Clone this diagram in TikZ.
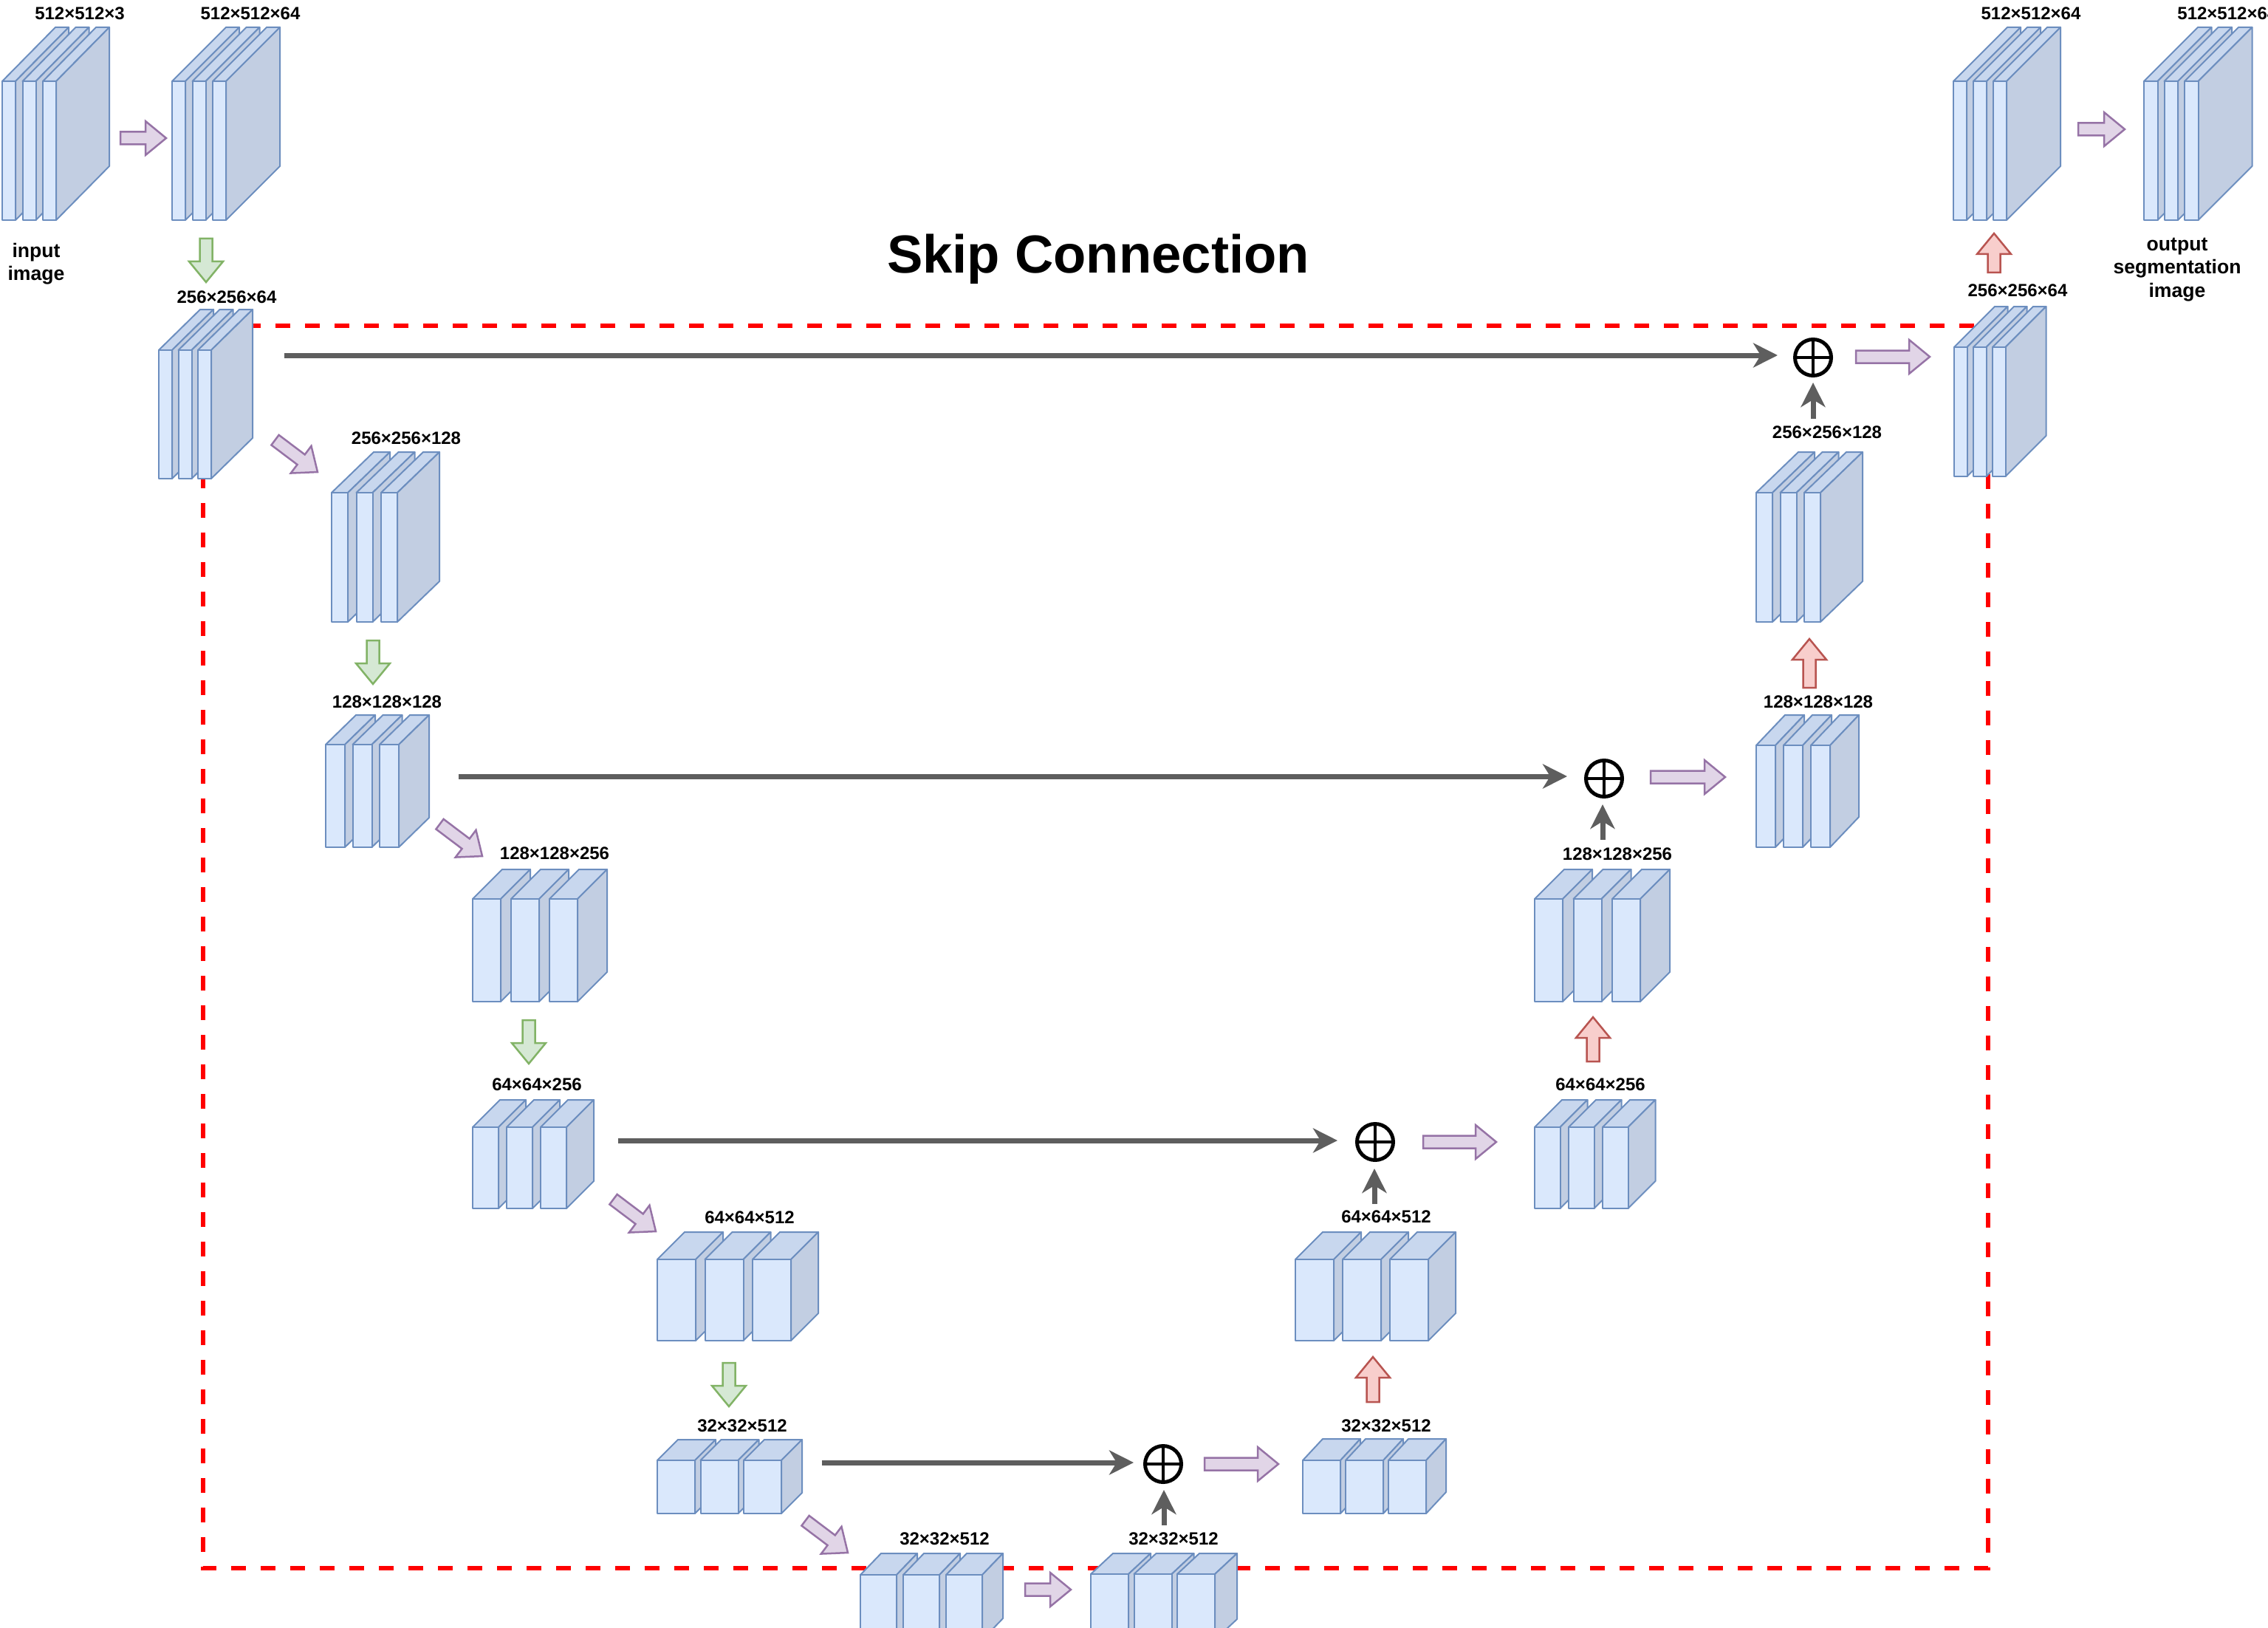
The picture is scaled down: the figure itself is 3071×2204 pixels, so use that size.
\documentclass[tikz,border=0pt]{standalone}
\usepackage{fontspec}
\setmainfont{Liberation Sans}
\usetikzlibrary{arrows.meta}
\definecolor{slabfill}{HTML}{DAE8FC}
\definecolor{slabline}{HTML}{6C8EBF}
\definecolor{slabtopc}{HTML}{C8D7EE}
\definecolor{slabsidec}{HTML}{C2CEE2}
\definecolor{purfill}{HTML}{E1D5E7}
\definecolor{purline}{HTML}{9673A6}
\definecolor{grnfill}{HTML}{D5E8D4}
\definecolor{grnline}{HTML}{82B366}
\definecolor{redfill}{HTML}{F8CECC}
\definecolor{redline}{HTML}{B85450}
\definecolor{skipgray}{HTML}{5E5E5E}
\definecolor{dashred}{HTML}{FF0000}

\newcommand\convblock[8]{% name, x0, ytop, ybottom, w, spacing, dx, dy
  \foreach \i in {0,1,2}{%
    \pgfmathsetmacro\xa{#2+\i*#6}%
    \pgfmathsetmacro\xb{\xa+#5}%
    \filldraw[slabface, fill=slabtopc] (\xa,#3) -- ++(#7,-#8) -- ++(#5,0) -- (\xb,#3) -- cycle;
    \filldraw[slabface, fill=slabsidec] (\xb,#3) -- ++(#7,-#8) -- ++(0,#4-#3) -- (\xb,#4) -- cycle;
    \filldraw[slabface, fill=slabfill] (\xa,#3) rectangle (\xb,#4);
  }%
  \coordinate (#1) at (#2,#3);
}
\newcommand\fatarrow[4]{% style, tail coordinate, angle, length
  \begin{scope}[shift={(#2)}, rotate=#3]
    \filldraw[#1] (0,-8.5) -- (#4-28,-8.5) -- (#4-28,-23) -- (#4,0) -- (#4-28,23) -- (#4-28,8.5) -- (0,8.5) -- cycle;
  \end{scope}}

\begin{document}
\begin{tikzpicture}[x=0.5pt,y=-0.5pt,
  slabface/.style={draw=slabline, line width=1pt, line join=round},
  purarrow/.style={fill=purfill, draw=purline, line width=1.25pt},
  grnarrow/.style={fill=grnfill, draw=grnline, line width=1.25pt},
  redarrow/.style={fill=redfill, draw=redline, line width=1.25pt},
  lbl/.style={font=\bfseries\fontsize{12}{14}\selectfont, inner sep=0pt},
  sidetxt/.style={font=\bfseries\fontsize{13.3}{15.75}\selectfont, inner sep=0pt, align=center},
  titletxt/.style={font=\bfseries\fontsize{36.25}{40}\selectfont, inner sep=0pt},
  skipbox/.style={draw=dashred, line width=3pt, dash pattern=on 10pt off 10pt},
  skip/.style={draw=skipgray, line width=3.5pt, -{Stealth[length=16.5pt,width=16.5pt,inset=5pt]}},
  oplus/.style={circle, draw=black, line width=2.5pt, inner sep=0pt, minimum size=24.5pt, fill=white,
    path picture={\draw[line width=2pt] (path picture bounding box.north) -- (path picture bounding box.south)
      (path picture bounding box.west) -- (path picture bounding box.east);}}
]
\useasboundingbox (0,0) rectangle (3071,2204);
\fill[white] (0,0) rectangle (3071,2204);
\clip (0,0) rectangle (3071,2204);

% skip connection region
\draw[skipbox] (275,441) rectangle (2692,2123);

% blocks
\convblock{b1}{3}{110}{298}{18}{27.5}{72}{73}
\convblock{b2}{233}{110}{298}{18}{27.5}{73}{73}
\convblock{b3}{215}{474}{648}{18}{26.5}{56}{55}
\convblock{b4}{449}{667}{842}{22}{33.5}{57}{55}
\convblock{b5}{441}{1008}{1147}{26}{36.5}{41}{40}
\convblock{b6}{640}{1217}{1356}{38}{52}{40}{40}
\convblock{b7}{640}{1526}{1636}{35}{46}{37}{37}
\convblock{b8}{890}{1705}{1815}{52}{64.5}{37}{37}
\convblock{b9}{890}{1977}{2049}{51}{58.5}{28}{28}
\convblock{b10}{1165}{2132}{2220}{49}{58}{28}{29}
\convblock{b11}{1477}{2131}{2220}{51}{58.5}{30}{28}
\convblock{d9}{1764}{1977}{2049}{51}{58}{27}{29}
\convblock{d8}{1754}{1705}{1815}{52}{64}{37}{37}
\convblock{d7}{2078}{1526}{1636}{34.5}{46}{37}{37}
\convblock{d6}{2078}{1217}{1356}{38}{52.5}{40}{40}
\convblock{d5}{2378}{1009}{1147}{26}{37}{39}{41}
\convblock{d4}{2378}{667}{842}{22}{32.5}{57}{55}
\convblock{d1}{2646}{470}{645}{17.5}{26}{55}{55}
\convblock{o1}{2645}{110}{298}{18}{27}{73}{73}
\convblock{o2}{2903}{110}{298}{18.5}{27.5}{73}{73}

% labels
\node[lbl] (l1) at (108,18) {512×512×3};
\node[lbl] (l2) at (339,18) {512×512×64};
\node[lbl] (l3) at (307,402) {256×256×64};
\node[lbl] (l4) at (550,593) {256×256×128};
\node[lbl] (l5) at (524,950) {128×128×128};
\node[lbl] (l6) at (751,1155) {128×128×256};
\node[lbl] (l7) at (727,1468) {64×64×256};
\node[lbl] (l8) at (1015,1648) {64×64×512};
\node[lbl] (l9) at (1005,1930) {32×32×512};
\node[lbl] (l10) at (1279,2083) {32×32×512};
\node[lbl] (l11) at (1589,2083) {32×32×512};
\node[lbl] (ld9) at (1877,1930) {32×32×512};
\node[lbl] (ld8) at (1877,1647) {64×64×512};
\node[lbl] (ld7) at (2167,1468) {64×64×256};
\node[lbl] (ld6) at (2190,1156) {128×128×256};
\node[lbl] (ld5) at (2462,950) {128×128×128};
\node[lbl] (ld4) at (2474,585) {256×256×128};
\node[lbl] (ld1) at (2732,393) {256×256×64};
\node[lbl] (lo1) at (2750,18) {512×512×64};
\node[lbl, anchor=west] (lo2) at (2948,18) {512×512×64};
\node[sidetxt] (inp) at (49,357) {input\\image};
\node[sidetxt] (outp) at (2948,365) {output\\segmentation\\image};
\node[titletxt, anchor=base] (title) at (1487,370) {Skip Connection};

% block arrows (tails)
\coordinate (a1) at (163,187);
\coordinate (a2) at (2814,175);
\coordinate (a3) at (1388,2152);
\coordinate (a4) at (2513,483);
\coordinate (a5) at (2235,1052);
\coordinate (a6) at (1927,1546);
\coordinate (a7) at (1631,1982);
\fatarrow{purarrow}{a1}{0}{62}
\fatarrow{purarrow}{a2}{0}{63}
\fatarrow{purarrow}{a3}{0}{62}
\fatarrow{purarrow}{a4}{0}{100}
\fatarrow{purarrow}{a5}{0}{101}
\fatarrow{purarrow}{a6}{0}{99}
\fatarrow{purarrow}{a7}{0}{100}
\coordinate (q1) at (372.5,595.7);
\coordinate (q2) at (595.5,1115.7);
\coordinate (q3) at (830.5,1623.7);
\coordinate (q4) at (1090.5,2058.7);
\fatarrow{purarrow}{q1}{-37}{72}
\fatarrow{purarrow}{q2}{-37}{72}
\fatarrow{purarrow}{q3}{-37}{72}
\fatarrow{purarrow}{q4}{-37}{72}
\coordinate (g1) at (279,323);
\coordinate (g2) at (505,867);
\coordinate (g3) at (716,1381);
\coordinate (g4) at (987,1845);
\fatarrow{grnarrow}{g1}{-90}{59}
\fatarrow{grnarrow}{g2}{-90}{59}
\fatarrow{grnarrow}{g3}{-90}{59}
\fatarrow{grnarrow}{g4}{-90}{59}
\coordinate (r1) at (2700,369);
\coordinate (r2) at (2450,931);
\coordinate (r3) at (2157,1437);
\coordinate (r4) at (1859,1898);
\fatarrow{redarrow}{r1}{90}{53}
\fatarrow{redarrow}{r2}{90}{66}
\fatarrow{redarrow}{r3}{90}{60}
\fatarrow{redarrow}{r4}{90}{61}

% adders
\node[oplus] (p1) at (2455,484) {};
\node[oplus] (p2) at (2172,1054) {};
\node[oplus] (p3) at (1862,1546) {};
\node[oplus] (p4) at (1575,1982) {};

% skip connections
\coordinate (s1) at (385,481);
\coordinate (s2) at (621,1051);
\coordinate (s3) at (837,1544);
\coordinate (s4) at (1113,1980);
\draw[skip, shorten >=10.5pt] (s1) -- (s1 -| p1.west);
\draw[skip, shorten >=11.5pt] (s2) -- (s2 -| p2.west);
\draw[skip, shorten >=12pt] (s3) -- (s3 -| p3.west);
\draw[skip, shorten >=6.5pt] (s4) -- (s4 -| p4.west);
\coordinate (u1) at (2455,567);
\coordinate (u2) at (2170,1137);
\coordinate (u3) at (1861,1630);
\coordinate (u4) at (1576,2065);
\draw[skip, shorten >=3.5pt] (u1) -- (u1 |- p1.south);
\draw[skip, shorten >=4pt] (u2) -- (u2 |- p2.south);
\draw[skip, shorten >=4.5pt] (u3) -- (u3 |- p3.south);
\draw[skip, shorten >=4pt] (u4) -- (u4 |- p4.south);
\end{tikzpicture}
\end{document}
